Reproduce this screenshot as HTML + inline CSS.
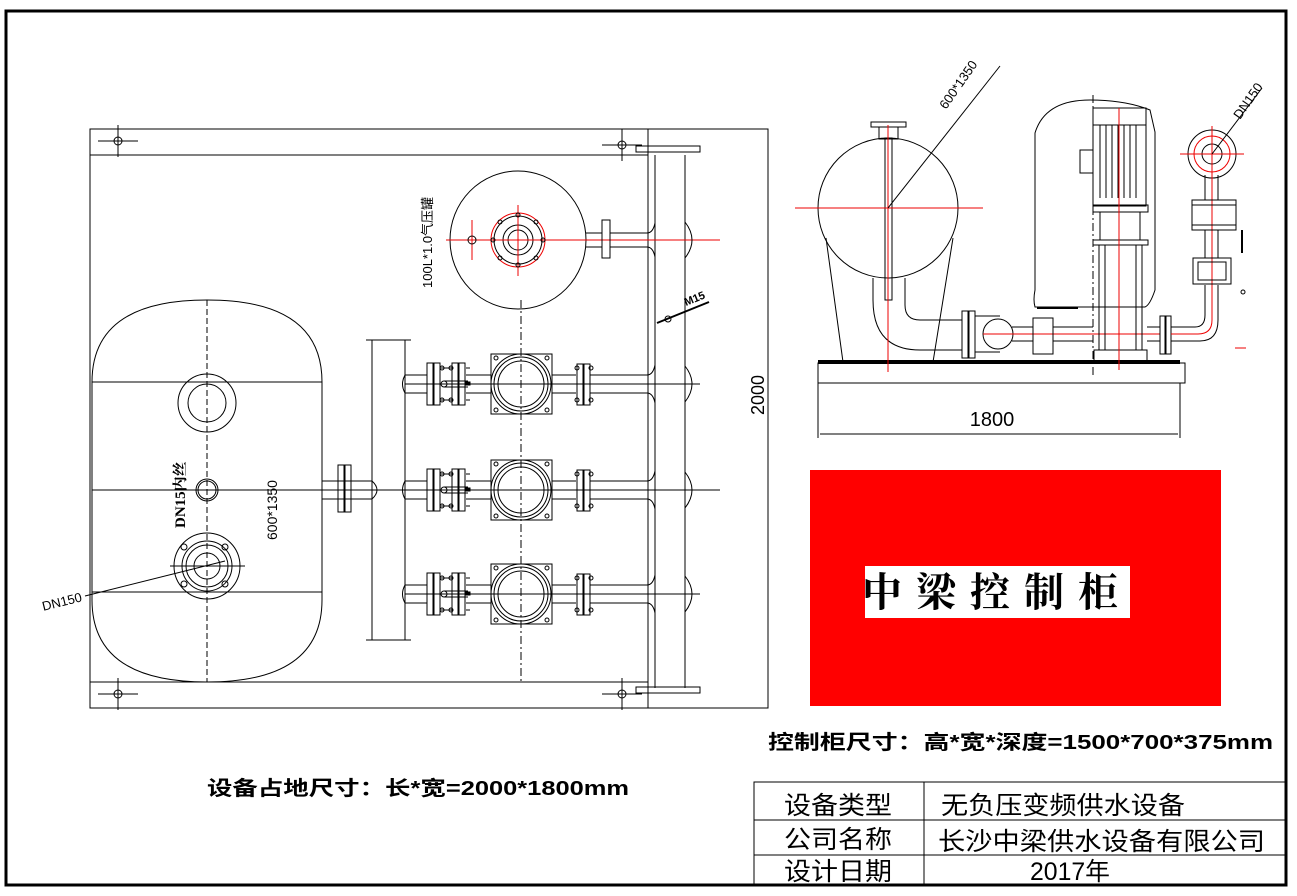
<!DOCTYPE html>
<html><head><meta charset="utf-8"><style>
html,body{margin:0;padding:0;background:#fff;}
svg{display:block;}
text{font-family:"Liberation Sans","Noto Sans CJK SC",sans-serif;}
.cn{font-family:"Liberation Serif","Noto Serif CJK SC",serif;}
</style></head><body>
<svg width="1297" height="896" viewBox="0 0 1297 896" xmlns="http://www.w3.org/2000/svg" fill="none" stroke="#000" stroke-width="1">
<defs>
<g id="cross"><line x1="-20" y1="0" x2="20" y2="0"/><line x1="0" y1="-16" x2="0" y2="16"/><circle r="4"/></g>
<g id="prow">
 <line x1="405" y1="-9" x2="427" y2="-9"/><line x1="405" y1="9" x2="427" y2="9"/>
 <path d="M405 -9 q-5 9 0 18"/>
 <rect x="427" y="-21" width="6" height="42"/><rect x="434" y="-21" width="6" height="42"/>
 <line x1="440" y1="-16" x2="452" y2="-16"/><line x1="440" y1="16" x2="452" y2="16"/>
 <circle cx="442" cy="-16" r="2"/><circle cx="442" cy="16" r="2"/>
 <circle cx="451" cy="-16" r="2"/><circle cx="451" cy="16" r="2"/>
 <rect x="452" y="-21" width="6" height="42"/><rect x="459" y="-21" width="6" height="42"/>
 <line x1="466" y1="-16" x2="470" y2="-16"/><line x1="466" y1="16" x2="470" y2="16"/>
 <circle cx="444" cy="0" r="3"/><line x1="444" y1="-3" x2="468" y2="-3"/><line x1="444" y1="3" x2="468" y2="3"/>
 <rect x="465" y="-2" width="5" height="3" fill="#000"/>
 <line x1="466" y1="-9" x2="491" y2="-9"/><line x1="466" y1="9" x2="491" y2="9"/>
 <rect x="491" y="-30" width="61" height="60"/>
 <circle cx="521" cy="0" r="30"/><circle cx="521" cy="0" r="27"/><circle cx="521" cy="0" r="23"/>
 <circle cx="496" cy="-26" r="2"/><circle cx="547" cy="-26" r="2"/><circle cx="496" cy="26" r="2"/><circle cx="547" cy="26" r="2"/>
 <line x1="552" y1="-9" x2="576" y2="-9"/><line x1="552" y1="9" x2="576" y2="9"/>
 <rect x="577" y="-20" width="6" height="41"/><rect x="584" y="-20" width="6" height="41"/>
 <circle cx="577" cy="-16" r="2"/><circle cx="591" cy="-16" r="2"/><circle cx="577" cy="16" r="2"/><circle cx="591" cy="16" r="2"/>
 <line x1="590" y1="-9" x2="647" y2="-9"/><line x1="590" y1="9" x2="647" y2="9"/>
 <path d="M647 -9 q6 0 8 -10 M647 9 q6 0 8 10"/>
 <line x1="405" y1="0" x2="700" y2="0"/>
 <path d="M685 -18 q14 18 0 36"/>
</g>
</defs>

<rect x="6" y="11" width="1280" height="874" stroke-width="3"/>

<!-- plan view -->
<rect x="90" y="129" width="678" height="579"/>
<line x1="90" y1="155" x2="648" y2="155"/>
<line x1="90" y1="682" x2="648" y2="682"/>
<line x1="648" y1="129" x2="648" y2="708"/>
<use href="#cross" x="118" y="141"/><use href="#cross" x="118" y="694"/>
<use href="#cross" x="622" y="145"/><use href="#cross" x="622" y="694"/>
<line x1="655" y1="155" x2="655" y2="688"/><line x1="685" y1="155" x2="685" y2="688"/>
<rect x="636" y="146" width="64" height="6"/><rect x="636" y="687" width="64" height="6"/>
<line x1="768" y1="132" x2="768" y2="706"/>
<text x="764" y="395" font-size="18" fill="#000" stroke="none" transform="rotate(-90 764 395)" text-anchor="middle">2000</text>
<line x1="657" y1="323" x2="709" y2="302" stroke-width="2"/><circle cx="668" cy="319" r="3"/>
<text x="686" y="306" font-size="11" font-weight="bold" fill="#000" stroke="none" transform="rotate(-22 686 306)">M15</text>

<ellipse cx="518" cy="240" rx="68" ry="69"/>
<circle cx="518" cy="240" r="27" stroke="#e00"/>
<circle cx="518" cy="240" r="24"/><circle cx="518" cy="240" r="15"/><circle cx="518" cy="240" r="10"/>
<g stroke="#e00"><line x1="446" y1="240" x2="720" y2="240"/><line x1="518" y1="205" x2="518" y2="276"/><line x1="472" y1="220" x2="472" y2="260"/></g>
<circle cx="472" cy="240" r="4"/>
<circle cx="518" cy="215" r="2"/><circle cx="518" cy="265" r="2"/><circle cx="493" cy="240" r="2"/><circle cx="543" cy="240" r="2"/>
<circle cx="500" cy="222" r="2"/><circle cx="536" cy="222" r="2"/><circle cx="500" cy="258" r="2"/><circle cx="536" cy="258" r="2"/>
<rect x="602" y="220" width="8" height="38"/>
<line x1="586" y1="233" x2="602" y2="233"/><line x1="586" y1="247" x2="602" y2="247"/>
<line x1="610" y1="233" x2="647" y2="233"/><line x1="610" y1="247" x2="647" y2="247"/>
<path d="M647 233 q6 0 8 -10 M647 247 q6 0 8 10"/>
<path d="M685 222 q14 18 0 36"/>
<text x="432" y="288" font-size="13" fill="#000" stroke="none" transform="rotate(-90 432 288)">100L*1.0气压罐</text>

<path d="M92 382 Q92 300 207 300 Q322 300 322 382 L322 600 Q322 682 207 682 Q92 682 92 600 Z"/>
<line x1="92" y1="382" x2="322" y2="382"/><line x1="92" y1="592" x2="322" y2="592"/>
<line x1="92" y1="490" x2="720" y2="490"/>
<line x1="207" y1="300" x2="207" y2="682" stroke-dasharray="6 3"/>
<circle cx="207" cy="403" r="29"/><circle cx="207" cy="403" r="19"/>
<circle cx="207" cy="490" r="11"/><circle cx="207" cy="490" r="9"/>
<circle cx="207" cy="566" r="33"/><circle cx="207" cy="566" r="25"/><circle cx="207" cy="566" r="21"/><circle cx="207" cy="566" r="13"/>
<line x1="170" y1="566" x2="245" y2="566"/>
<circle cx="184" cy="547" r="3"/><circle cx="225" cy="547" r="3"/><circle cx="184" cy="584" r="3"/><circle cx="225" cy="584" r="3"/>
<line x1="85" y1="596" x2="225" y2="561"/>
<text x="63" y="606" font-size="13" fill="#000" stroke="none" transform="rotate(-14 63 606)" text-anchor="middle">DN150</text>
<text x="185" y="528" font-size="15" font-weight="bold" class="cn" fill="#000" stroke="none" transform="rotate(-90 185 528)">DN15内丝</text>
<text x="277" y="540" font-size="14" fill="#000" stroke="none" transform="rotate(-90 277 540)">600*1350</text>
<line x1="322" y1="481" x2="372" y2="481"/><line x1="322" y1="499" x2="372" y2="499"/>
<rect x="338" y="465" width="6" height="47"/><rect x="345" y="465" width="6" height="47"/>
<path d="M372 481 q10 9 0 18"/>
<line x1="372" y1="340" x2="372" y2="640"/><line x1="405" y1="340" x2="405" y2="640"/>
<line x1="366" y1="340" x2="411" y2="340"/><line x1="366" y1="640" x2="411" y2="640"/>
<line x1="521" y1="300" x2="521" y2="682" stroke-dasharray="8 3 2 3"/>
<use href="#prow" y="384"/><use href="#prow" y="490"/><use href="#prow" y="594"/>

<text x="207" y="795" font-size="20" font-weight="bold" fill="#000" stroke="none" textLength="422" lengthAdjust="spacingAndGlyphs">设备占地尺寸：长*宽=2000*1800mm</text>

<!-- side view -->
<rect x="818" y="363" width="367" height="20"/>
<line x1="818" y1="362" x2="1180" y2="362" stroke-width="4"/>
<line x1="818" y1="383" x2="818" y2="438"/><line x1="1180" y1="383" x2="1180" y2="438"/>
<line x1="820" y1="434" x2="1178" y2="434"/>
<text x="992" y="426" font-size="20" fill="#000" stroke="none" text-anchor="middle">1800</text>
<circle cx="888" cy="208" r="70"/>
<path d="M826 238 L843 362 M953 238 L933 362"/>
<rect x="871" y="122" width="35" height="5"/><rect x="879" y="127" width="19" height="12"/>
<rect x="885" y="138" width="7" height="162"/>
<path d="M873 278 L873 300 Q873 350 920 350 L962 350 M905 278 L905 305 Q905 320 920 320 L962 320"/>
<rect x="962" y="311" width="6" height="47"/><rect x="969" y="311" width="6" height="47"/>
<circle cx="998" cy="334" r="15"/>
<line x1="975" y1="316" x2="1000" y2="316"/><line x1="975" y1="352" x2="1000" y2="352"/>
<line x1="1012" y1="327" x2="1033" y2="327"/><line x1="1012" y1="341" x2="1033" y2="341"/>
<g stroke="#e00"><line x1="795" y1="208" x2="983" y2="208"/><line x1="888" y1="125" x2="888" y2="372"/><line x1="983" y1="334" x2="1160" y2="334"/></g>
<line x1="888" y1="208" x2="1000" y2="66"/>
<text x="946" y="110" font-size="13" fill="#000" stroke="none" transform="rotate(-55 946 110)">600*1350</text>
<path d="M1035 133 Q1045 100 1090 100 Q1125 100 1150 110 L1155 132 L1155 290 Q1150 305 1145 307 L1035 307 Q1033 300 1035 290 Z"/>
<rect x="1033" y="318" width="20" height="36"/><line x1="1037" y1="308" x2="1078" y2="308" stroke-width="2"/>
<line x1="1053" y1="327" x2="1093" y2="327"/><line x1="1053" y1="341" x2="1093" y2="341"/>
<rect x="1093" y="108" width="53" height="98"/>
<g><line x1="1100" y1="125" x2="1100" y2="198"/><line x1="1106" y1="125" x2="1106" y2="198"/><line x1="1112" y1="125" x2="1112" y2="198"/><line x1="1118" y1="125" x2="1118" y2="198"/><line x1="1124" y1="125" x2="1124" y2="198"/><line x1="1130" y1="125" x2="1130" y2="198"/><line x1="1136" y1="125" x2="1136" y2="198"/></g>
<line x1="1093" y1="125" x2="1146" y2="125"/>
<rect x="1080" y="150" width="13" height="23"/>
<rect x="1093" y="205" width="55" height="7"/>
<path d="M1100 212 L1100 240 M1140 212 L1140 240"/>
<rect x="1093" y="240" width="55" height="5"/>
<rect x="1099" y="245" width="43" height="105"/><line x1="1105" y1="245" x2="1105" y2="350"/><line x1="1136" y1="245" x2="1136" y2="350"/>
<rect x="1094" y="350" width="53" height="12"/>
<line x1="1093" y1="95" x2="1093" y2="375" stroke-dasharray="8 3 2 3"/>
<line x1="1119" y1="108" x2="1119" y2="370" stroke="#e00"/>
<line x1="1147" y1="327" x2="1160" y2="327"/><line x1="1147" y1="341" x2="1160" y2="341"/>
<rect x="1160" y="316" width="5" height="38"/><rect x="1166" y="316" width="5" height="38"/>
<path d="M1171 327 L1195 327 Q1205 327 1205 315 L1205 285 M1171 341 L1200 341 Q1218 341 1218 320 L1218 285"/>
<path d="M1171 334 L1198 334 Q1212 334 1212 320 L1212 135" stroke="#e00"/>
<rect x="1193" y="258" width="38" height="26"/><rect x="1198" y="262" width="28" height="18"/>
<rect x="1192" y="200" width="44" height="30"/><line x1="1192" y1="205" x2="1236" y2="205"/><line x1="1192" y1="225" x2="1236" y2="225"/>
<line x1="1242" y1="230" x2="1242" y2="253" stroke-width="2"/>
<line x1="1205" y1="175" x2="1205" y2="200"/><line x1="1218" y1="175" x2="1218" y2="200"/>
<line x1="1205" y1="230" x2="1205" y2="258"/><line x1="1218" y1="230" x2="1218" y2="258"/>
<circle cx="1212" cy="154" r="24"/><circle cx="1212" cy="154" r="18" stroke="#e00"/><circle cx="1212" cy="154" r="10"/>
<g stroke="#e00"><line x1="1180" y1="154" x2="1244" y2="154"/><line x1="1212" y1="126" x2="1212" y2="185"/><line x1="1235" y1="348" x2="1246" y2="348"/></g>
<line x1="1212" y1="154" x2="1262" y2="88"/>
<text x="1240" y="120" font-size="13" fill="#000" stroke="none" transform="rotate(-55 1240 120)">DN150</text>
<circle cx="1243" cy="292" r="2"/>

<rect x="810" y="470" width="411" height="236" fill="#ff0000" stroke="none"/>
<rect x="865" y="566" width="265" height="52" fill="#fff" stroke="none"/>
<text x="997" y="606" font-size="40" class="cn" font-weight="bold" fill="#000" stroke="none" text-anchor="middle" letter-spacing="14">中梁控制柜</text>
<text x="768" y="749" font-size="20" font-weight="bold" fill="#000" stroke="none" textLength="505" lengthAdjust="spacingAndGlyphs">控制柜尺寸：高*宽*深度=1500*700*375mm</text>

<rect x="754" y="782" width="532" height="103"/>
<line x1="754" y1="820" x2="1286" y2="820"/><line x1="754" y1="855" x2="1286" y2="855"/>
<line x1="924" y1="782" x2="924" y2="885"/>
<g class="cn" font-size="25" fill="#000" stroke="none">
<text x="784" y="814" textLength="108" lengthAdjust="spacingAndGlyphs">设备类型</text>
<text x="784" y="848" textLength="108" lengthAdjust="spacingAndGlyphs">公司名称</text>
<text x="784" y="880" textLength="108" lengthAdjust="spacingAndGlyphs">设计日期</text>
<text x="941" y="814" textLength="244" lengthAdjust="spacingAndGlyphs">无负压变频供水设备</text>
<text x="938" y="850" textLength="327" lengthAdjust="spacingAndGlyphs">长沙中梁供水设备有限公司</text>
<text x="1030" y="880" textLength="80" lengthAdjust="spacingAndGlyphs">2017年</text>
</g>
</svg>
</body></html>
